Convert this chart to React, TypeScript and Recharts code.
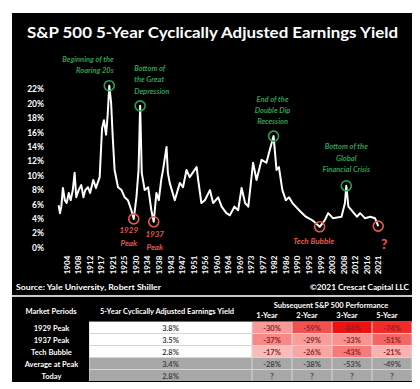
import React from "react";
import { LineChart, Line, XAxis, YAxis, ReferenceDot } from "recharts";

// 5-year cyclically adjusted earnings yield (%)
const years = [
  1901, 1901.5, 1902, 1902.6, 1903.3, 1904, 1904.8, 1905.5, 1906.3, 1907,
  1907.6, 1908.5, 1909.5, 1910.3, 1911, 1912, 1912.8, 1914, 1915, 1916.4,
  1916.9, 1917.3, 1918, 1918.8, 1919.4, 1920, 1920.7, 1921.3, 1922, 1923.3,
  1924.6, 1925.8, 1927, 1928.3, 1929.2, 1930.2, 1931, 1931.6, 1932.2, 1933.3,
  1934.6, 1935.8, 1936.7, 1937.7, 1938.6, 1939.5, 1940.2, 1941.5, 1942, 1942.7,
  1944.6, 1946.5, 1947.7, 1949, 1950.2, 1951.5, 1952.8, 1953.4, 1954.6, 1955.9,
  1957.8, 1959, 1960.9, 1962.2, 1964, 1965.3, 1967, 1968.4, 1969.7, 1971,
  1972.2, 1974, 1975.3, 1977.2, 1979, 1980.3, 1981.7, 1982.8, 1983.7, 1985,
  1986.3, 1987.5, 1988.8, 1991.3, 1993.8, 1996.3, 1999, 2000.9, 2002.2, 2004,
  2007.2, 2008.5, 2009, 2009.8, 2011, 2013, 2014.2, 2016, 2018, 2019.8, 2021,
];
const earningsYield = [
  5.9, 4.8, 5.7, 8.3, 6.6, 6.2, 7.6, 6.6, 8.0, 10.4,
  7.0, 8.0, 8.7, 7.0, 8.0, 8.4, 7.6, 9.4, 8.3, 9.8,
  13.6, 16.6, 17.7, 15.7, 18.4, 22.5, 20.1, 15.4, 10.8, 8.4,
  8.0, 7.0, 6.6, 5.2, 4.0, 7.0, 10.8, 19.7, 10.4, 8.0,
  8.4, 5.2, 3.6, 7.6, 6.6, 9.4, 10.8, 14.0, 10.4, 9.0,
  6.6, 9.0, 8.4, 10.8, 9.8, 10.5, 11.2, 9.4, 6.2, 6.6,
  8.0, 6.2, 7.0, 5.7, 4.8, 4.5, 5.7, 5.2, 8.3, 6.2,
  5.7, 11.8, 9.4, 12.2, 11.8, 13.6, 15.5, 10.8, 11.2, 8.0,
  6.6, 7.0, 6.2, 5.2, 4.3, 3.8, 2.9, 3.8, 4.8, 4.1,
  4.3, 6.2, 8.6, 5.7, 5.2, 4.3, 4.8, 4.1, 4.3, 4.1, 3.0,
];

const yTicks = [0, 2, 4, 6, 8, 10, 12, 14, 16, 18, 20, 22];
const xTickLabels = [
  "1904", "1908", "1912", "1917", "1921", "1925", "1930", "1934", "1938", "1943",
  "1947", "1951", "1956", "1960", "1964", "1969", "1973", "1977", "1982", "1986",
  "1990", "1995", "1999", "2003", "2008", "2012", "2016", "2021",
];

const markYears = [1920, 1931.6, 1981.7, 2009, 1929.2, 1936.7, 1999, 2021];
const markValues = [22.5, 19.7, 15.5, 8.6, 4.0, 3.6, 2.9, 3.0];
const markNotes = [
  ["Beginning of the", "Roaring 20s"],
  ["Bottom of", "the Great", "Depression"],
  ["End of the", "Double Dip", "Recession"],
  ["Bottom of the", "Global", "Financial Crisis"],
  ["1929", "Peak"],
  ["1937", "Peak"],
  ["Tech Bubble"],
  ["?"],
];

const periods = ["1929 Peak", "1937 Peak", "Tech Bubble", "Average at Peak", "Today"];
const capeYield = ["3.8%", "3.5%", "2.8%", "3.4%", "2.8%"];
const horizons = ["1-Year", "2-Year", "3-Year", "5-Year"];
const perf1929 = [-30, -59, -84, -74];
const perf1937 = [-37, -29, -33, -51];
const perfTech = [-17, -26, -43, -21];
const perfAverage = [-28, -38, -53, -49];
const perfToday = [null, null, null, null];

const data = years.map((year, i) => ({ year, value: earningsYield[i] }));
// ticks sit every 52 months in the original monthly series
const xTicks = xTickLabels.map((_, i) => 1904 + (i * 52) / 12);

const GREEN = "#2f9e55";
const RED = "#e45a4a";
const FONT = "Lato, 'Open Sans', sans-serif";

// offsets of each note from its circle
const noteLayout = [
  { dx: 4.5, dy: -23.3, anchor: "end", gap: 11, size: 7.5, color: GREEN },
  { dx: -6, dy: -35, anchor: "start", gap: 11.5, size: 7.5, color: GREEN },
  { dx: -1, dy: -34, anchor: "middle", gap: 11, size: 7.5, color: GREEN },
  { dx: 0, dy: -36.5, anchor: "middle", gap: 11.5, size: 7.5, color: GREEN },
  { dx: -5, dy: 14.5, anchor: "middle", gap: 13, size: 8, color: RED },
  { dx: 1, dy: 15.3, anchor: "middle", gap: 12.5, size: 8, color: RED },
  { dx: -6, dy: 17.3, anchor: "middle", gap: 12, size: 8, color: RED },
  { dx: 6, dy: 23, anchor: "middle", gap: 12, size: 14, color: RED },
];

const heat = (v: number) => {
  const t = Math.min(1, Math.abs(v) / 84);
  const r = Math.round(252 - 14 * t);
  const g = Math.round(232 - 215 * t);
  const b = Math.round(230 - 213 * t);
  return `rgb(${r},${g},${b})`;
};

const YearTick = (props: any) => {
  const { x, y, index } = props;
  return (
    <text
      x={x}
      y={y}
      transform={`rotate(-90 ${x} ${y})`}
      textAnchor="end"
      dominantBaseline="central"
      fill="#fff"
      fontSize={8}
      fontWeight={700}
      fontFamily={FONT}
    >
      {xTickLabels[index]}
    </text>
  );
};

const noteShape = (i: number) => (props: any) => {
  const { cx, cy } = props;
  const l = noteLayout[i];
  return (
    <g>
      <circle cx={cx} cy={cy} r={5} fill="none" stroke={l.color} strokeWidth={1.6} />
      {markNotes[i].map((t, k) => (
        <text
          key={k}
          x={cx + l.dx}
          y={cy + l.dy + k * l.gap}
          textAnchor={l.anchor as any}
          fill={l.color}
          fontSize={l.size}
          fontWeight={700}
          fontStyle={i === 7 ? "normal" : "italic"}
          fontFamily={FONT}
        >
          {t}
        </text>
      ))}
    </g>
  );
};

const tableRows = [perf1929, perf1937, perfTech, perfAverage, perfToday];
const rowTops = [322, 334, 346, 358, 370];
const colEdges = [89, 252, 292, 332, 372, 412];

function Table() {
  const txt = { fontFamily: FONT, fontWeight: 700, fontSize: 7.5 } as const;
  return (
    <g>
      <rect x={12} y={297} width={400} height={85} fill="#000" />
      <rect x={89} y={321.5} width={323} height={59.5} fill="#d6d6d6" />
      <text x={51} y={313.5} textAnchor="middle" fill="#fff" {...txt}>Market Periods</text>
      <text x={167} y={313.5} textAnchor="middle" fill="#fff" {...txt}>
        5-Year Cyclically Adjusted Earnings Yield
      </text>
      <text x={331} y={307.5} textAnchor="middle" fill="#fff" {...txt}>
        Subsequent S&amp;P 500 Performance
      </text>
      {horizons.map((h, j) => (
        <text key={h} x={(colEdges[j + 1] + colEdges[j + 2]) / 2 - 5} y={318} textAnchor="middle" fill="#fff" {...txt}>
          {h}
        </text>
      ))}
      {periods.map((p, r) => {
        const top = rowTops[r];
        const grey = r >= 3;
        return (
          <g key={p}>
            <text x={51.5} y={top + 8.5} textAnchor="middle" fill="#fff" {...txt}>{p}</text>
            <rect x={89.5} y={top} width={162} height={11} fill={grey ? "#a8a8a8" : "#fff"} />
            <text x={170.5} y={top + 8.5} textAnchor="middle" fill="#444" {...txt}>{capeYield[r]}</text>
            {tableRows[r].map((v, j) => {
              const x0 = colEdges[j + 1];
              const fill = grey || v === null ? "#a8a8a8" : heat(v);
              return (
                <g key={j}>
                  <rect x={x0 + 0.5} y={top} width={39} height={11} fill={fill} />
                  <text
                    x={x0 + 20}
                    y={top + 8.5}
                    textAnchor="middle"
                    fill={grey ? "#444" : "#8e2020"}
                    {...txt}
                  >
                    {v === null ? "?" : `${v}%`}
                  </text>
                </g>
              );
            })}
          </g>
        );
      })}
    </g>
  );
}

export default function App() {
  return (
    <div style={{ position: "absolute", left: 0, top: 0, width: 420, height: 389, background: "#fff", overflow: "hidden" }}>
      <div style={{ position: "absolute", left: 12, top: 13, width: 400, height: 282, background: "#000" }} />
      <div style={{ position: "absolute", left: 12, top: 295, width: 400, height: 2, background: "#c8c8c8" }} />
      <div style={{ position: "absolute", left: 0, top: 0 }}>
        <LineChart
          width={420}
          height={300}
          data={data}
          margin={{ top: 74.9, right: 39.1, bottom: 12.3, left: 16 }}
        >
          <XAxis
            dataKey="year"
            type="number"
            domain={[1900, 2022]}
            ticks={xTicks}
            interval={0}
            axisLine={false}
            tickLine={false}
            height={40}
            tick={<YearTick />}
          />
          <YAxis
            type="number"
            domain={[0, 24]}
            ticks={yTicks}
            interval={0}
            width={40}
            axisLine={false}
            tickLine={false}
            tickMargin={6}
            tickFormatter={(v) => `${v}%`}
            tick={{ fill: "#fff", fontSize: 8.5, fontWeight: 700, fontFamily: FONT }}
          />
          <Line
            type="linear"
            dataKey="value"
            stroke="#fff"
            strokeWidth={2}
            strokeLinejoin="round"
            dot={false}
            isAnimationActive={false}
          />
          {markYears.map((yr, i) => (
            <ReferenceDot key={i} x={yr} y={markValues[i]} r={5} shape={noteShape(i)} />
          ))}
        </LineChart>
      </div>
      <svg width={420} height={389} style={{ position: "absolute", left: 0, top: 0, pointerEvents: "none" }}>
        <text x={27} y={38} fill="#fff" fontSize={14.5} fontWeight={700} fontFamily={FONT} textLength={371} lengthAdjust="spacingAndGlyphs">
          S&amp;P 500 5-Year Cyclically Adjusted Earnings Yield
        </text>
        <text x={16} y={290} fill="#fff" fontSize={7.5} fontWeight={700} fontFamily={FONT} textLength={145} lengthAdjust="spacingAndGlyphs">
          Source: Yale University, Robert Shiller
        </text>
        <text x={310} y={290} fill="#fff" fontSize={7.5} fontWeight={700} fontFamily={FONT} textLength={99} lengthAdjust="spacingAndGlyphs">
          ©2021 Crescat Capital LLC
        </text>
        <Table />
      </svg>
    </div>
  );
}
